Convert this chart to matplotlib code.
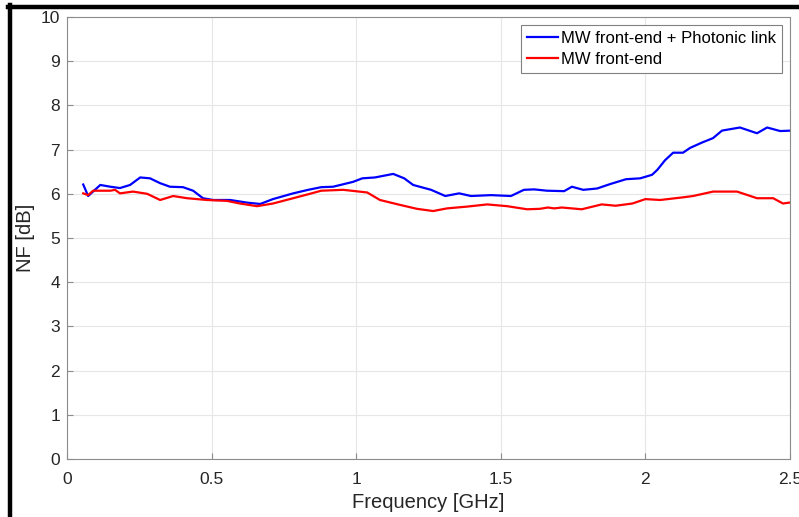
import matplotlib
matplotlib.use('Agg')
import matplotlib.pyplot as plt
from matplotlib.lines import Line2D

# Noise figure traces (frequency in GHz, NF in dB)
freq_link = [0.056, 0.058, 0.073, 0.115, 0.150, 0.183, 0.218, 0.253, 0.287, 0.322, 0.356,
             0.401, 0.436, 0.470, 0.505, 0.564, 0.623, 0.668, 0.712, 0.782, 0.834, 0.879,
             0.920, 0.989, 1.021, 1.065, 1.128, 1.166, 1.197, 1.259, 1.308, 1.356, 1.397,
             1.466, 1.535, 1.580, 1.615, 1.660, 1.719, 1.746, 1.785, 1.833, 1.833, 1.878,
             1.933, 1.982, 2.023, 2.041, 2.068, 2.096, 2.130, 2.155, 2.196, 2.234, 2.265,
             2.327, 2.386, 2.421, 2.466, 2.507]
nf_link = [6.21, 6.18, 5.95, 6.20, 6.16, 6.13, 6.20, 6.37, 6.35, 6.24, 6.16,
           6.15, 6.07, 5.90, 5.86, 5.86, 5.80, 5.77, 5.88, 6.01, 6.09, 6.15,
           6.16, 6.27, 6.35, 6.37, 6.45, 6.35, 6.20, 6.09, 5.95, 6.01, 5.95,
           5.97, 5.95, 6.09, 6.10, 6.07, 6.06, 6.16, 6.09, 6.12, 6.12, 6.22,
           6.33, 6.35, 6.43, 6.54, 6.76, 6.93, 6.93, 7.04, 7.16, 7.26, 7.43,
           7.50, 7.37, 7.50, 7.42, 7.43]

freq_fe = [0.056, 0.073, 0.090, 0.150, 0.166, 0.183, 0.228, 0.277, 0.322, 0.367, 0.415,
           0.484, 0.553, 0.598, 0.657, 0.712, 0.782, 0.834, 0.879, 0.955, 1.038, 1.082,
           1.151, 1.210, 1.266, 1.314, 1.383, 1.453, 1.522, 1.591, 1.635, 1.663, 1.685,
           1.711, 1.780, 1.849, 1.897, 1.955, 2.000, 2.051, 2.130, 2.165, 2.234, 2.282,
           2.317, 2.386, 2.442, 2.476, 2.507]
nf_fe = [6.01, 5.97, 6.07, 6.07, 6.09, 6.01, 6.05, 6.00, 5.86, 5.95, 5.90,
         5.86, 5.84, 5.78, 5.72, 5.78, 5.90, 5.99, 6.07, 6.09, 6.03, 5.86,
         5.75, 5.66, 5.61, 5.67, 5.71, 5.76, 5.72, 5.65, 5.66, 5.69, 5.67,
         5.69, 5.65, 5.76, 5.73, 5.78, 5.88, 5.86, 5.92, 5.95, 6.05, 6.05,
         6.05, 5.90, 5.90, 5.78, 5.81]

xticks = [0, 0.5, 1, 1.5, 2, 2.5]
xtick_labels = ['0', '0.5', '1', '1.5', '2', '2.5']
yticks = list(range(0, 11))

plt.rcParams['font.family'] = ['Liberation Sans', 'DejaVu Sans']

fig = plt.figure(figsize=(7.99, 5.17), dpi=100)
ax = fig.add_axes([0.0839, 0.1122, 0.9048, 0.8549])

ax.plot(freq_link, nf_link, color='#0000ff', lw=1.6, label='MW front-end + Photonic link')
ax.plot(freq_fe, nf_fe, color='#ff0000', lw=1.6, label='MW front-end')

ax.set_xlim(0, 2.5)
ax.set_ylim(0, 10)
ax.set_xticks(xticks)
ax.set_xticklabels(xtick_labels)
ax.set_yticks(yticks)
ax.grid(True, color='#e6e6e6', lw=0.8)
ax.set_axisbelow(True)
for sp in ax.spines.values():
    sp.set_color('#8c8c8c')
    sp.set_linewidth(0.8)
ax.tick_params(direction='in', length=4, color='#8c8c8c', labelsize=12.5,
               labelcolor='#262626', top=False, right=False)
ax.tick_params(axis='x', pad=9.5)
ax.tick_params(axis='y', pad=5)
ax.set_xlabel('Frequency [GHz]', fontsize=14.5, color='#262626', labelpad=4)
ax.set_ylabel('NF [dB]', fontsize=14.5, color='#262626', labelpad=4)

leg = ax.legend(loc='upper right', fontsize=12, fancybox=False, framealpha=1,
                edgecolor='#808080', handlelength=1.85, handletextpad=0.15,
                borderaxespad=0.45, borderpad=0.4, labelspacing=0.32)
leg.get_frame().set_linewidth(0.8)

# thick black frame along the top and left edges
fig.add_artist(Line2D([8 / 799, 1], [1 - 7 / 517, 1 - 7 / 517], color='black', lw=3.2,
                      transform=fig.transFigure))
fig.add_artist(Line2D([10 / 799, 10 / 799], [0, 1 - 5 / 517], color='black', lw=3.2,
                      transform=fig.transFigure))

fig.savefig('out.png', dpi=100)
